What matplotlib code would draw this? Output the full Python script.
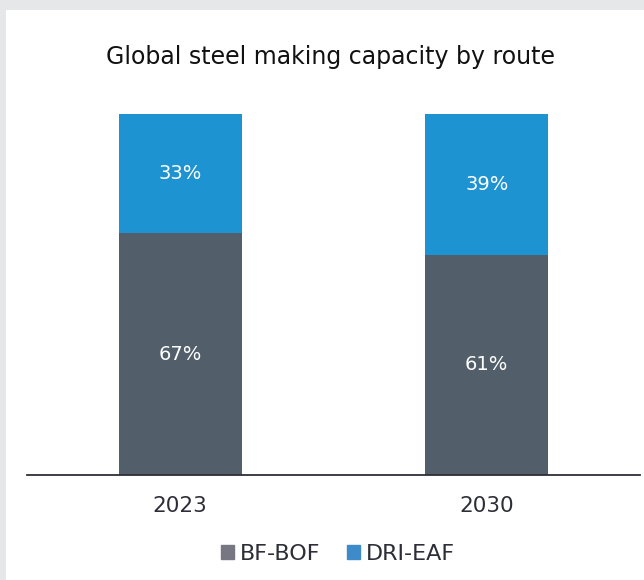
import matplotlib
matplotlib.use('Agg')
import matplotlib.pyplot as plt
from matplotlib.patches import Rectangle

years = ['2023', '2030']
bf_bof = [67, 61]
dri_eaf = [33, 39]

plt.rcParams['font.family'] = ['DejaVu Sans']

fig = plt.figure(figsize=(6.44, 5.8), dpi=100)
fig.patch.set_facecolor('#e6e7e9')
# white card
fig.patches.append(Rectangle((6 / 644, 0), 1, 570 / 580, transform=fig.transFigure,
                             facecolor='white', edgecolor='none', zorder=-1))

ax = fig.add_axes([27 / 644, 105 / 580, 613 / 644, 361 / 580])
ax.set_facecolor('none')

x = range(len(years))
b1 = ax.bar(x, bf_bof, width=0.4, color='#525f6b')
b2 = ax.bar(x, dri_eaf, width=0.4, bottom=bf_bof, color='#1e93d2')

for i in x:
    ax.text(i, bf_bof[i] / 2, f'{bf_bof[i]}%', ha='center', va='center',
            color='white', fontsize=14)
    ax.text(i, bf_bof[i] + dri_eaf[i] / 2, f'{dri_eaf[i]}%', ha='center', va='center',
            color='white', fontsize=14)

ax.set_xlim(-0.5, 1.5)
ax.set_ylim(0, 100)
ax.set_xticks(list(x))
ax.set_xticklabels(years, fontsize=15.5, color='#2e2e38')
ax.tick_params(axis='x', length=0, pad=15)
ax.set_yticks([])
for s in ['top', 'right', 'left']:
    ax.spines[s].set_visible(False)
ax.spines['bottom'].set_color('#2e2e38')
ax.spines['bottom'].set_linewidth(1.3)

fig.text(331 / 644, 1 - 57 / 580, 'Global steel making capacity by route',
         ha='center', va='center', fontsize=17, color='#111111')

leg = fig.legend([Rectangle((0, 0), 1, 1, color='#777784'), Rectangle((0, 0), 1, 1, color='#3d8bc8')],
                 ['BF-BOF', 'DRI-EAF'], loc='center', bbox_to_anchor=(338 / 644, 1 - 554 / 580),
                 ncol=2, frameon=False, fontsize=16, handlelength=0.6, handleheight=0.6,
                 handletextpad=0.25, columnspacing=1.2, labelcolor='#2e2e38')

fig.savefig('out.png', dpi=100)
